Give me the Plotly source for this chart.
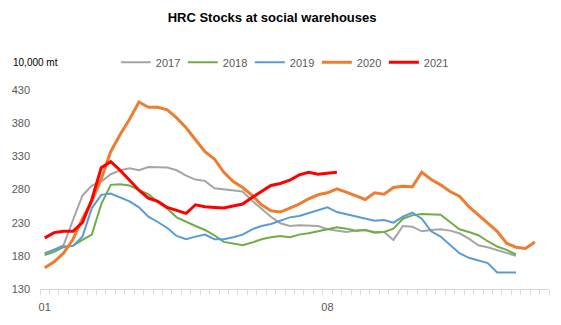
import plotly.graph_objects as go

years = ["2017", "2018", "2019", "2020", "2021"]
tick_labels = ["01", "08"]
tick_positions = [0, 30]

s2017 = [183, 189, 196, 234, 271, 286, 292, 303, 309, 312,
         309, 314, 314, 313, 309, 301, 295, 293, 282, 280,
         278, 277, 263, 251, 239, 229, 225, 226, 225, 225,
         220, 218, 216, 218, 219, 216, 216, 204, 225, 224,
         217, 219, 220, 218, 214, 206, 196, 193, 189, 185, 180]
s2018 = [181, 186, 193, 195, 204, 212, 258, 287, 288, 286,
         279, 273, 261, 251, 238, 231, 225, 219, 211, 201,
         198, 196, 200, 205, 208, 210, 208, 212, 214, 217,
         221, 223, 221, 218, 219, 215, 216, 221, 236, 241,
         243, 243, 242, 231, 220, 216, 211, 202, 194, 189, 182]
s2019 = [184, 189, 194, 195, 209, 252, 272, 274, 268, 262,
         253, 239, 231, 222, 210, 205, 209, 212, 205, 205,
         208, 212, 220, 225, 228, 233, 238, 240, 244, 249,
         253, 246, 243, 239, 237, 233, 234, 230, 239, 245,
         236, 217, 209, 196, 184, 177, 173, 169, 155, 155, 155]
s2020 = [162, 171, 184, 205, 236, 262, 296, 337, 363, 386,
         412, 404, 404, 400, 388, 373, 355, 337, 326, 306,
         292, 283, 271, 257, 248, 246, 252, 258, 266, 272,
         275, 281, 276, 270, 265, 275, 273, 283, 285, 284,
         306, 295, 287, 277, 270, 254, 242, 230, 217, 199, 193, 191, 201]
s2021 = [207, 215, 217, 217, 230, 265, 313, 322, 309, 294,
         279, 267, 262, 253, 248, 244, 257, 254, 253, 252,
         255, 258, 268, 277, 286, 289, 294, 302, 306, 303, 305, 306]

series = [s2017, s2018, s2019, s2020, s2021]
colors = ["#A5A5A5", "#70AD47", "#5B9BD5", "#ED7D31", "#FF0000"]
widths = [2, 2, 2, 3, 3]
n_categories = 54

fig = go.Figure()
for name, vals, c, w in zip(years, series, colors, widths):
    fig.add_trace(go.Scatter(x=list(range(len(vals))), y=vals, mode="lines", name=name,
                             line=dict(color=c, width=w)))

font_family = "Liberation Sans, Arial, sans-serif"
fig.update_layout(
    width=561, height=325,
    margin=dict(l=39, r=12, t=90, b=34),
    paper_bgcolor="white", plot_bgcolor="white",
    font=dict(family=font_family, color="#595959", size=11),
    title=dict(text="<b>HRC Stocks at social warehouses</b>", x=0.485, xref="container",
               y=1 - 17 / 325, yanchor="middle", xanchor="center",
               font=dict(size=13, color="black", family=font_family)),
    showlegend=True,
    legend=dict(orientation="h", x=(115 - 39) / 510, xanchor="left", y=(291 - 62) / 201, yanchor="middle",
                font=dict(size=11, color="#595959"), entrywidth=22, entrywidthmode="pixels",
                bgcolor="rgba(0,0,0,0)"),
    xaxis=dict(range=[-0.5, n_categories - 0.5], tickvals=tick_positions, ticktext=tick_labels,
               ticks="", showgrid=False, zeroline=False, showline=True, linecolor="#D9D9D9", linewidth=1,
               ticklabelstandoff=8, tickfont=dict(size=11, color="#595959"),
               minor=dict(tick0=-0.5, dtick=1, ticks="outside", ticklen=5, tickcolor="#D9D9D9",
                          tickwidth=1, showgrid=False)),
    yaxis=dict(range=[130, 430], tickvals=[130, 180, 230, 280, 330, 380, 430], showgrid=False,
               zeroline=False, showline=False, ticks="", ticklabelstandoff=9,
               tickfont=dict(size=11, color="#595959")),
)
fig.add_annotation(text="10,000 mt", xref="paper", yref="paper", x=-29 / 510, y=(291 - 62) / 201,
                   xanchor="left", yanchor="middle", showarrow=False,
                   font=dict(size=10, color="black", family=font_family))

fig.write_html("out.html")
